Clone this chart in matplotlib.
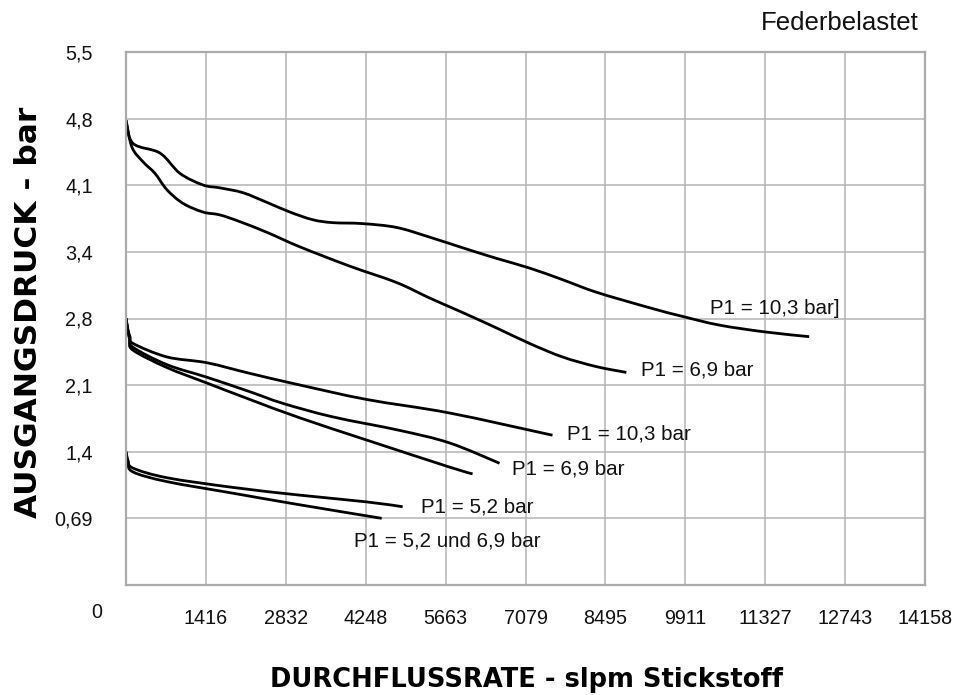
import matplotlib
matplotlib.use("Agg")
import matplotlib.pyplot as plt
import numpy as np
from matplotlib.path import Path
from matplotlib.patches import PathPatch

# Tick positions come from psi -> bar and scfm -> slpm conversions
X_STEP = 1415.8
Y_STEP = 0.6895
X_TICK_LABELS = ["1416", "2832", "4248", "5663", "7079", "8495", "9911", "11327", "12743", "14158"]
Y_TICK_LABELS = ["0,69", "1,4", "2,1", "2,8", "3,4", "4,1", "4,8", "5,5"]

# Flow (slpm), outlet pressure (bar)
hi_103_x = [0, 124, 602, 956, 1363, 1664, 2071, 2496, 2903, 3310, 3663, 4194, 4796, 5380,
            5964, 6566, 7150, 7734, 8335, 9273, 9858, 10512, 11309, 12105]
hi_103_y = [4.81, 4.57, 4.47, 4.26, 4.14, 4.11, 4.06, 3.96, 3.86, 3.78, 3.75, 3.74, 3.70, 3.60,
            3.49, 3.38, 3.28, 3.16, 3.03, 2.87, 2.78, 2.69, 2.62, 2.57]

hi_69_x = [0, 106, 301, 513, 726, 1009, 1363, 1664, 2018, 2496, 3079, 3964, 4796, 5380,
           5964, 6566, 7150, 7734, 8335, 8866]
hi_69_y = [4.81, 4.53, 4.38, 4.26, 4.09, 3.95, 3.86, 3.83, 3.76, 3.65, 3.50, 3.30, 3.13,
           2.97, 2.82, 2.66, 2.50, 2.36, 2.26, 2.20]

mid_103_x = [0, 35, 71, 124, 726, 1434, 2195, 3079, 4265, 5734, 7557]
mid_103_y = [2.76, 2.64, 2.57, 2.50, 2.36, 2.30, 2.19, 2.07, 1.92, 1.78, 1.55]

mid_69_x = [0, 35, 71, 124, 726, 1434, 2195, 2778, 3663, 4849, 5734, 6619]
mid_69_y = [2.76, 2.63, 2.55, 2.46, 2.28, 2.15, 2.00, 1.88, 1.74, 1.60, 1.47, 1.26]

mid_52_x = [0, 35, 71, 124, 726, 1434, 2195, 3079, 4265, 5734, 6141]
mid_52_y = [2.76, 2.62, 2.53, 2.43, 2.25, 2.09, 1.92, 1.73, 1.50, 1.22, 1.15]

lo_52_x = [0, 35, 124, 726, 1894, 3079, 4265, 4902]
lo_52_y = [1.38, 1.29, 1.21, 1.11, 1.01, 0.93, 0.86, 0.81]

lo_5269_x = [0, 35, 124, 726, 1894, 3079, 4531]
lo_5269_y = [1.38, 1.27, 1.17, 1.07, 0.95, 0.83, 0.69]

curves = [(hi_103_x, hi_103_y), (hi_69_x, hi_69_y), (mid_103_x, mid_103_y),
          (mid_69_x, mid_69_y), (mid_52_x, mid_52_y), (lo_52_x, lo_52_y),
          (lo_5269_x, lo_5269_y)]

labels = ["P1 = 10,3 bar]", "P1 = 6,9 bar", "P1 = 10,3 bar", "P1 = 6,9 bar",
          "P1 = 5,2 bar", "P1 = 5,2 und 6,9 bar"]
label_pos = [(10353, 2.86), (9132, 2.22), (7822, 1.56), (6831, 1.20), (5221, 0.81), (4035, 0.455)]


def smooth_path(xs, ys):
    # Catmull-Rom style bezier through the read points (Excel "smoothed line" look)
    p = np.column_stack([xs, ys]).astype(float)
    n = len(p)
    verts = [p[0]]
    codes = [Path.MOVETO]
    for i in range(n - 1):
        p0 = p[max(i - 1, 0)]
        p1 = p[i]
        p2 = p[i + 1]
        p3 = p[min(i + 2, n - 1)]
        c1 = p1 + (p2 - p0) / 6.0
        c2 = p2 - (p3 - p1) / 6.0
        verts += [c1, c2, p2]
        codes += [Path.CURVE4] * 3
    return Path(verts, codes)


plt.rcParams["font.family"] = ["Liberation Sans", "DejaVu Sans"]

fig = plt.figure(figsize=(9.58, 6.95), dpi=100)
ax = fig.add_axes([126 / 958, 1 - 585 / 695, 799 / 958, 533 / 695])

ax.set_xlim(0, 10 * X_STEP)
ax.set_ylim(0, 8 * Y_STEP)
ax.set_xticks([X_STEP * (i + 1) for i in range(len(X_TICK_LABELS))])
ax.set_xticklabels(X_TICK_LABELS)
ax.set_yticks([Y_STEP * (i + 1) for i in range(len(Y_TICK_LABELS))])
ax.set_yticklabels(Y_TICK_LABELS)
ax.tick_params(axis="both", length=0, labelsize=14.2, colors="#111111")
ax.tick_params(axis="x", pad=17)
ax.tick_params(axis="y", pad=24)
ax.grid(True, color="#b4b4b4", lw=1.1)
ax.set_axisbelow(True)
for s in ax.spines.values():
    s.set_color("#ababab")
    s.set_linewidth(1.6)

for xs, ys in curves:
    ax.add_patch(PathPatch(smooth_path(xs, ys), fill=False, ec="black", lw=2.0,
                           capstyle="butt", joinstyle="round"))

for text, (lx, ly) in zip(labels, label_pos):
    ax.text(lx, ly, text, ha="left", va="center", fontsize=14.8, color="#111111")

# lone origin label, sits on the x tick-label row
fig.text(102 / 958, 1 - 612 / 695, "0", ha="right", va="center", fontsize=14.2, color="#111111")
fig.text(919 / 958, 1 - 23 / 695, "Federbelastet", ha="right", va="center", fontsize=18.5,
         color="#111111")

fig.text(526 / 958, 1 - 680 / 695, "DURCHFLUSSRATE - slpm Stickstoff", ha="center", va="center",
         fontsize=18.5, fontweight="bold", family="DejaVu Sans")
fig.text(29 / 958, 1 - 312 / 695, "AUSGANGSDRUCK - bar", ha="center", va="center", rotation=90,
         fontsize=22.5, fontweight="bold", family="DejaVu Sans")

fig.savefig("out.png", dpi=100)
